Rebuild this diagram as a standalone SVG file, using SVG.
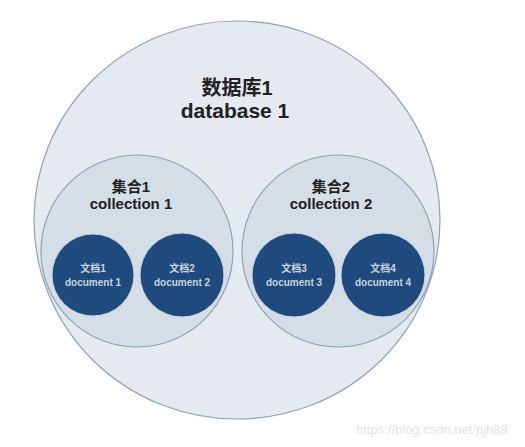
<svg xmlns="http://www.w3.org/2000/svg" width="525" height="447" viewBox="0 0 525 447">
<style>
.db{fill:#e5eaf0;stroke:#8ea2bb;stroke-width:1.2}
.col{fill:#d5dde7;stroke:#8ea2bb;stroke-width:1.2}
.doc{fill:#1f4a7d;stroke:#c9d3df;stroke-width:1}
.t1{font-family:"Liberation Sans","Noto Sans CJK SC",sans-serif;font-weight:bold;fill:#222;text-anchor:middle}
.t3{font-family:"Liberation Sans","Noto Sans CJK SC",sans-serif;font-weight:bold;fill:#c9d2de;text-anchor:middle;font-size:10px}
.wm{font-family:"Liberation Sans",sans-serif;fill:#e3e3e3;font-size:13px}
</style>
<rect width="525" height="447" fill="#fff"/>
<g id="database1">
<ellipse class="db" cx="237" cy="220" rx="203" ry="199"/>
<text class="t1" x="237" y="95" font-size="20">数据库1</text>
<text class="t1" x="235" y="118" font-size="21">database 1</text>
</g>
<g id="collection1">
<circle class="col" cx="137" cy="251" r="96"/>
<text class="t1" x="131" y="192" font-size="15">集合1</text>
<text class="t1" x="131" y="209" font-size="15">collection 1</text>
</g>
<g id="collection2">
<circle class="col" cx="338" cy="251" r="96"/>
<text class="t1" x="331" y="192" font-size="15">集合2</text>
<text class="t1" x="331" y="209" font-size="15">collection 2</text>
</g>
<g id="document1">
<circle class="doc" cx="93" cy="275" r="41"/>
<text class="t3" x="93" y="272">文档1</text>
<text class="t3" x="93" y="286">document 1</text>
</g>
<g id="document2">
<circle class="doc" cx="182" cy="275" r="42"/>
<text class="t3" x="182" y="272">文档2</text>
<text class="t3" x="182" y="286">document 2</text>
</g>
<g id="document3">
<circle class="doc" cx="294" cy="275" r="42"/>
<text class="t3" x="294" y="272">文档3</text>
<text class="t3" x="294" y="286">document 3</text>
</g>
<g id="document4">
<circle class="doc" cx="383" cy="275" r="42"/>
<text class="t3" x="383" y="272">文档4</text>
<text class="t3" x="383" y="286">document 4</text>
</g>
<g id="connectors"/>
<text class="wm" x="356" y="434">https://blog.csdn.net/pjh88</text>
</svg>
